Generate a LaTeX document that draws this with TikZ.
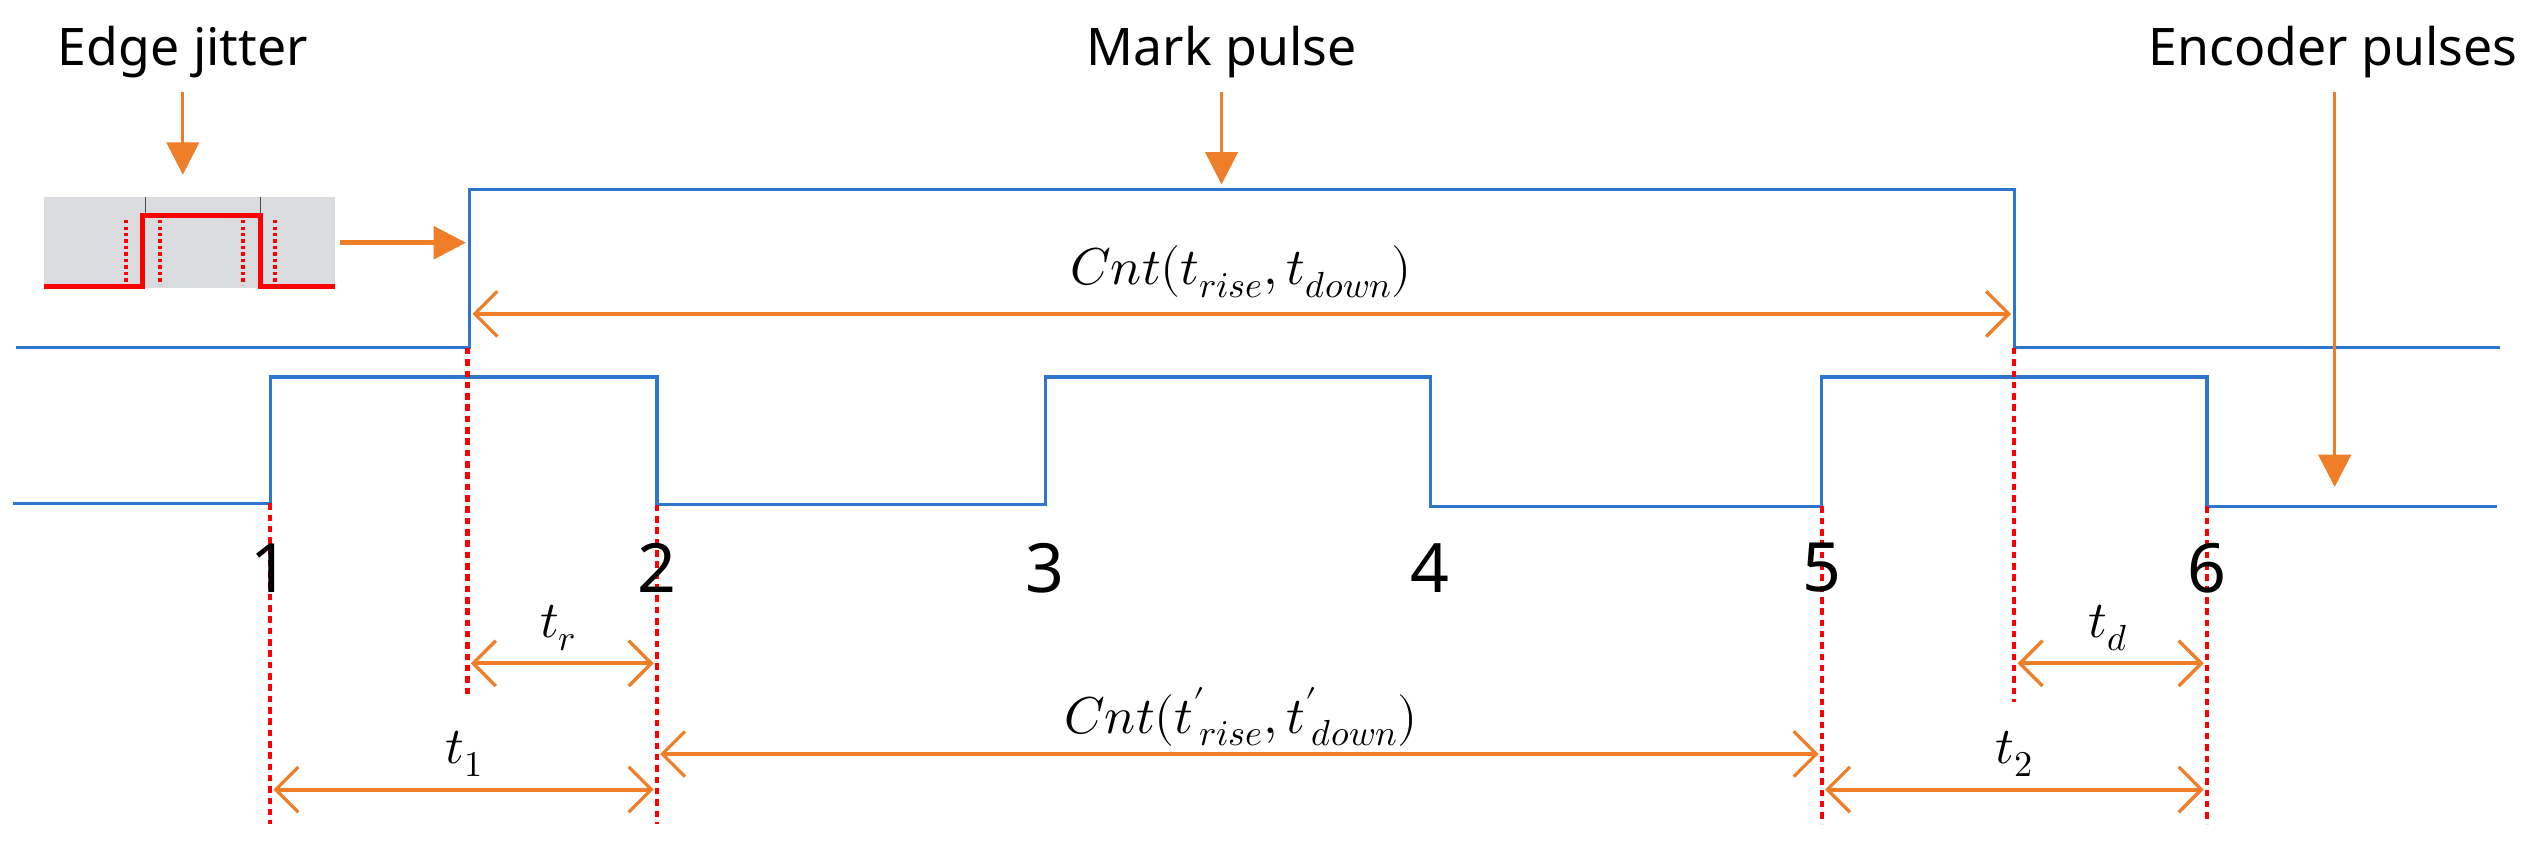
\documentclass[tikz,border=0pt]{standalone}
\usepackage{fontspec}
\setmainfont{Noto Sans}
\usepackage{unicode-math}
\usetikzlibrary{arrows.meta}
\definecolor{sigblue}{RGB}{46,117,206}
\definecolor{org}{RGB}{240,125,40}
\definecolor{inset}{RGB}{217,219,222}
\begin{document}
\begin{tikzpicture}[x=1pt,y=-1pt,
  sig/.style={sigblue,line width=2pt},
  guide/.style={red,line width=2.6pt,dash pattern=on 4pt off 3pt},
  dim/.style={org,line width=2.4pt,{Straight Barb[length=14pt,width=28pt,line width=2pt]}-{Straight Barb[length=14pt,width=28pt,line width=2pt]}},
  point/.style={org,line width=2pt,-{Triangle[length=20pt,width=20pt]}},
  lbl/.style={font=\fontsize{32}{38}\selectfont,inner sep=0pt},
  num/.style={font=\fontsize{42}{48}\selectfont,inner sep=0pt},
  mth/.style={font=\fontsize{32}{38}\selectfont,inner sep=0pt}]
\useasboundingbox (0,0) rectangle (1560,523);
% inset
\fill[inset] (27,122) rectangle (207,178);
\draw[black!70,line width=1pt] (90,122)--(90,132) (161,122)--(161,132);
\draw[red,line width=2.4pt,dash pattern=on 2pt off 2pt] (78,136)--(78,174) (99,136)--(99,176) (150,136)--(150,176) (170,136)--(170,174);
\draw[red,line width=3pt] (27,177)--(88,177)--(88,133)--(161,133)--(161,177)--(207,177);
% signals
\draw[sig] (10,215)--(290,215)--(290,117)--(1245,117)--(1245,215)--(1545,215);
\draw[sig] (8,311)--(167,311)--(167,233)--(406,233)--(406,312)--(646,312)--(646,233)--(884,233)--(884,313)--(1126,313)--(1126,233)--(1364,233)--(1364,313)--(1543,313);
% guides
\draw[guide] (167,311)--(167,509);
\draw[guide] (406,312)--(406,509);
\draw[guide] (1126,313)--(1126,509);
\draw[guide] (1364,313)--(1364,509);
\draw[guide] (289,215)--(289,430);
\draw[guide] (1245,215)--(1245,434);
% numbers
\foreach \n/\x in {1/167,2/406,3/646,4/884,5/1126,6/1364}
  \node[num] (n\n) at (\x,351) {\n};
% titles
\node[lbl] (ej) at (113,32) {Edge jitter};
\node[lbl] (mp) at (755,32) {Mark pulse};
\node[lbl,anchor=east] (ep) at (1556,32) {Encoder pulses};
\coordinate (ejA) at (113,57); \coordinate (ejB) at (113,108);
\coordinate (mpA) at (755,57); \coordinate (mpB) at (755,114);
\coordinate (epA) at (1443,57); \coordinate (epB) at (1443,301);
\coordinate (inA) at (210,150); \coordinate (inB) at (288,150);
\draw[point] (ejA)--(ejB);
\draw[point] (mpA)--(mpB);
\draw[point] (epA)--(epB);
\draw[point,line width=3pt] (inA)--(inB);
% dimensions
\coordinate (c1) at (292,194); \coordinate (c2) at (1243,194);
\draw[dim] (c1)--(c2);
\node[mth] (cnt) at (767,168) {$Cnt(t_{rise},t_{down})$};
\coordinate (r1) at (291,410); \coordinate (r2) at (404,410);
\draw[dim] (r1)--(r2);
\node[mth] (tr) at (345,388) {$t_r$};
\coordinate (d1) at (1247,410); \coordinate (d2) at (1362,410);
\draw[dim] (d1)--(d2);
\node[mth] (td) at (1303,388) {$t_d$};
\coordinate (p1) at (408,466); \coordinate (p2) at (1124,466);
\draw[dim] (p1)--(p2);
\node[mth] (cntp) at (767,443) {$Cnt({t'}_{\!rise},{t'}_{\!down})$};
\coordinate (a1) at (169,488); \coordinate (a2) at (404,488);
\draw[dim] (a1)--(a2);
\node[mth] (t1) at (287,466) {$t_1$};
\coordinate (b1) at (1128,488); \coordinate (b2) at (1362,488);
\draw[dim] (b1)--(b2);
\node[mth] (t2) at (1245,466) {$t_2$};
\end{tikzpicture}
\end{document}
